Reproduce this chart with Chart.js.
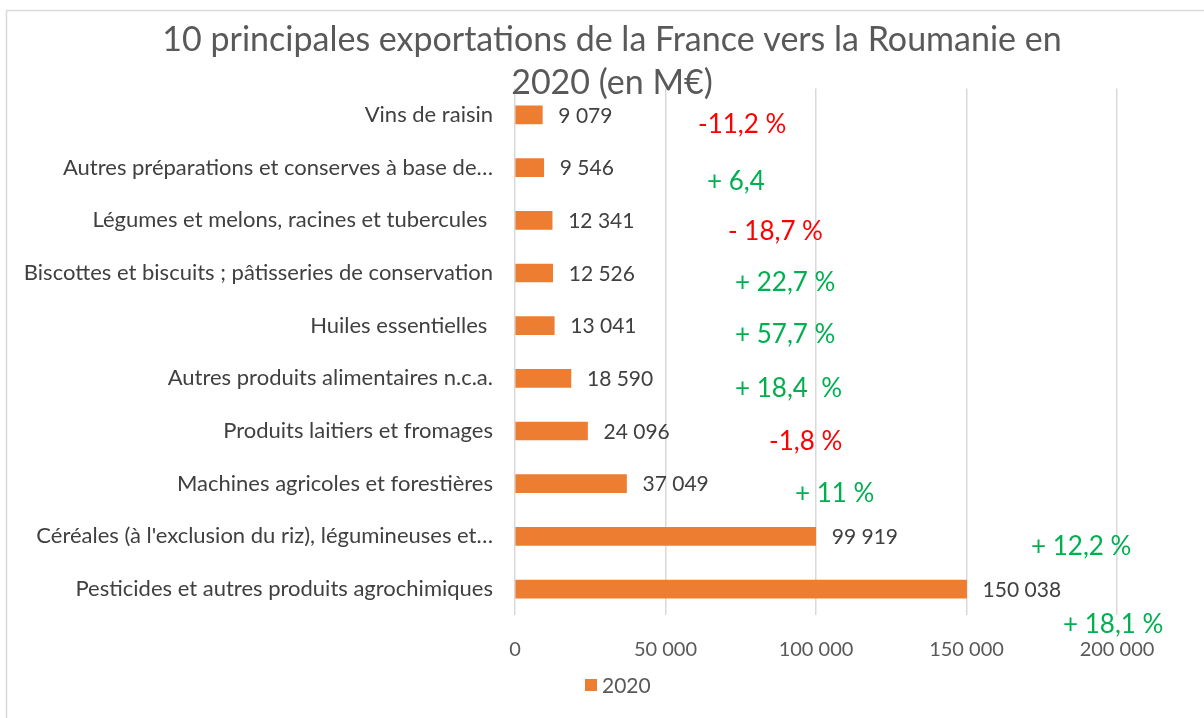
<!DOCTYPE html>
<html>
<head>
<meta charset="utf-8">
<script src="https://cdn.jsdelivr.net/npm/chart.js@4.4.1/dist/chart.umd.min.js"></script>
<style>
html,body{margin:0;padding:0;background:#fff;}
#wrap{width:1204px;height:718px;position:relative;}
</style>
</head>
<body>
<div id="wrap"><canvas id="c" width="1204" height="718"></canvas></div>
<script>
const titleLines = ["10 principales exportations de la France vers la Roumanie en", "2020 (en M€)"];
const categories = [
  "Vins de raisin",
  "Autres préparations et conserves à base de…",
  "Légumes et melons, racines et tubercules ",
  "Biscottes et biscuits ; pâtisseries de conservation",
  "Huiles essentielles ",
  "Autres produits alimentaires n.c.a.",
  "Produits laitiers et fromages",
  "Machines agricoles et forestières",
  "Céréales (à l'exclusion du riz), légumineuses et…",
  "Pesticides et autres produits agrochimiques"
];
const values2020 = [9079, 9546, 12341, 12526, 13041, 18590, 24096, 37049, 99919, 150038];
const valueLabels = ["9 079", "9 546", "12 341", "12 526", "13 041", "18 590", "24 096", "37 049", "99 919", "150 038"];
const changeLabels = ["-11,2 %", "+ 6,4", "- 18,7 %", "+ 22,7 %", "+ 57,7 %", "+ 18,4  %", "-1,8 %", "+ 11 %", "+ 12,2 %", "+ 18,1 %"];
const changeIsNegative = [true, false, true, false, false, false, true, false, false, false];
const xTicks = [0, 50000, 100000, 150000, 200000];
const seriesName = "2020";

// Layout of the hand-placed annotation text boxes (left x in px, offset from bar centre in px)
const changeLayout = [
  [698, 10], [707, 14], [728, 11], [735, 10], [735, 9],
  [735, 10], [769, 11], [795, 10], [1031, 10], [1063, 36]
];

const FONT = "Lato, 'Open Sans', sans-serif";
const fmt = v => v.toLocaleString('fr-FR').replace(/\u202f|\u00a0/g, ' ');

const decorPlugin = {
  id: 'decor',
  beforeDraw(chart) {
    const ctx = chart.ctx;
    ctx.save();
    ctx.fillStyle = '#fff';
    ctx.fillRect(0, 0, chart.width, chart.height);
    ctx.strokeStyle = '#D9D9D9';
    ctx.lineWidth = 1.5;
    ctx.beginPath();
    ctx.moveTo(6.5, chart.height);
    ctx.lineTo(6.5, 10.5);
    ctx.lineTo(chart.width, 10.5);
    ctx.stroke();
    ctx.restore();
  },
  afterDatasetsDraw(chart) {
    const ctx = chart.ctx;
    const meta = chart.getDatasetMeta(0);
    const ys = chart.scales.y;
    ctx.save();
    // value labels
    ctx.font = "21px " + FONT;
    ctx.fillStyle = '#404040';
    ctx.textBaseline = 'middle';
    ctx.textAlign = 'left';
    meta.data.forEach((bar, i) => {
      ctx.fillText(valueLabels[i], bar.x + 16, bar.y + 1);
    });
    // change annotations
    ctx.font = "26px " + FONT;
    categories.forEach((c, i) => {
      const yc = ys.getPixelForValue(i);
      ctx.fillStyle = changeIsNegative[i] ? '#FF0000' : '#00B050';
      ctx.fillText(changeLabels[i], changeLayout[i][0], yc + changeLayout[i][1]);
    });
    // title
    ctx.font = "34px " + FONT;
    ctx.fillStyle = '#595959';
    ctx.textAlign = 'center';
    ctx.fillText(titleLines[0], 612, 40);
    ctx.fillText(titleLines[1], 612, 83);
    // legend
    ctx.fillStyle = '#ED7D31';
    ctx.fillRect(585, 679, 12, 12);
    ctx.fillStyle = '#595959';
    ctx.textAlign = 'left';
    ctx.font = "21px " + FONT;
    ctx.fillText(seriesName, 602, 686);
    ctx.restore();
  }
};

new Chart(document.getElementById('c'), {
  type: 'bar',
  data: {
    labels: categories,
    datasets: [{
      label: seriesName,
      data: values2020,
      backgroundColor: '#ED7D31',
      borderWidth: 0,
      barThickness: 18
    }]
  },
  options: {
    indexAxis: 'y',
    responsive: false,
    animation: false,
    devicePixelRatio: 1,
    layout: { padding: { top: 88.6, right: 87, bottom: 0, left: 0 } },
    plugins: {
      legend: { display: false },
      title: { display: false },
      tooltip: { enabled: false }
    },
    scales: {
      x: {
        min: 0, max: 200000,
        afterBuildTicks(scale) { scale.ticks = xTicks.map(v => ({ value: v })); },
        afterFit(scale) { scale.height = 102.6; },
        grid: { color: '#D9D9D9', lineWidth: 1.5, drawTicks: false },
        border: { display: false },
        ticks: {
          padding: 22,
          color: '#595959',
          font: { family: FONT, size: 20 },
          callback: v => fmt(v)
        }
      },
      y: {
        afterFit(scale) { scale.width = 515; },
        grid: { display: false, drawTicks: false },
        border: { display: false },
        ticks: {
          padding: 22,
          color: '#404040',
          font: { family: FONT, size: 22 },
          autoSkip: false
        }
      }
    }
  },
  plugins: [decorPlugin]
});
</script>
</body>
</html>
